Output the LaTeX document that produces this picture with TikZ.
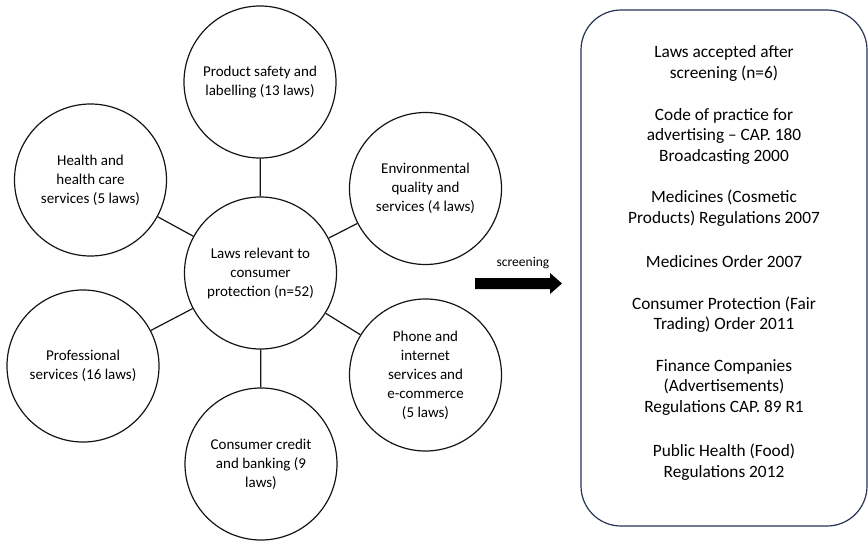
\documentclass[tikz,border=0pt]{standalone}
\usepackage{fontspec}
\setmainfont{Carlito}
\definecolor{boxcol}{RGB}{38,50,86}
\definecolor{inkcol}{RGB}{20,20,20}
\begin{document}
\begin{tikzpicture}[x=1pt,y=-1pt,
  topic/.style={circle,draw=inkcol,line width=1.2pt,minimum size=152pt,inner sep=0pt,align=center,font=\fontsize{15}{19}\selectfont},
  link/.style={draw=inkcol,line width=1.2pt},
  lawtext/.style={align=center,font=\fontsize{17.3}{20.5}\selectfont,inner sep=0pt},
  resultbox/.style={draw=boxcol,line width=1.2pt,rounded corners=40pt,minimum width=286pt,minimum height=516pt,inner sep=0pt}]
\useasboundingbox (0,0) rectangle (868,541);
% circles
\node[topic] (c) at (260.5,273) {Laws relevant to\\consumer\\protection (n=52)};
\node[topic] (prod) at (260,82) {Product safety and\\labelling (13 laws)};
\node[topic] (health) at (90.5,180) {Health and\\health care\\services (5 laws)};
\node[topic] (env) at (425.5,188.5) {Environmental\\quality and\\services (4 laws)};
\node[topic] (prof) at (83,366) {Professional\\services (16 laws)};
\node[topic] (phone) at (425.5,375) {Phone and\\internet\\services and\\e-commerce\\(5 laws)};
\node[topic] (credit) at (261,464) {Consumer credit\\and banking (9\\laws)};
% links
\draw[link] (c) -- (prod);
\draw[link] (c) -- (health);
\draw[link] (c) -- (env);
\draw[link] (c) -- (prof);
\draw[link] (c) -- (phone);
\draw[link] (c) -- (credit);
% screening arrow (block arrow)
\coordinate (arrtail) at (475,283.5);
\fill[black] (arrtail) ++(0,-5.5) -- ++(75,0) -- ++(0,-5) -- (562,283.5) -- (550,294) -- ++(0,-5) -- ++(-75,0) -- cycle;
\node[font=\fontsize{13.5}{16}\selectfont,inner sep=0pt] (scr) at (523,263) {screening};
% result box
\node[resultbox] (box) at (724,268) {};
\node[lawtext] (l1) at (724,63.5) {Laws accepted after\\screening (n=6)};
\node[lawtext] (l2) at (724,136) {Code of practice for\\advertising – CAP. 180\\Broadcasting 2000};
\node[lawtext] (l3) at (724,208) {Medicines (Cosmetic\\Products) Regulations 2007};
\node[lawtext] (l4) at (724,262) {Medicines Order 2007};
\node[lawtext] (l5) at (724,314.5) {Consumer Protection (Fair\\Trading) Order 2011};
\node[lawtext] (l6) at (724,387.5) {Finance Companies\\(Advertisements)\\Regulations CAP. 89 R1};
\node[lawtext] (l7) at (724,462) {Public Health (Food)\\Regulations 2012};
\end{tikzpicture}
\end{document}
